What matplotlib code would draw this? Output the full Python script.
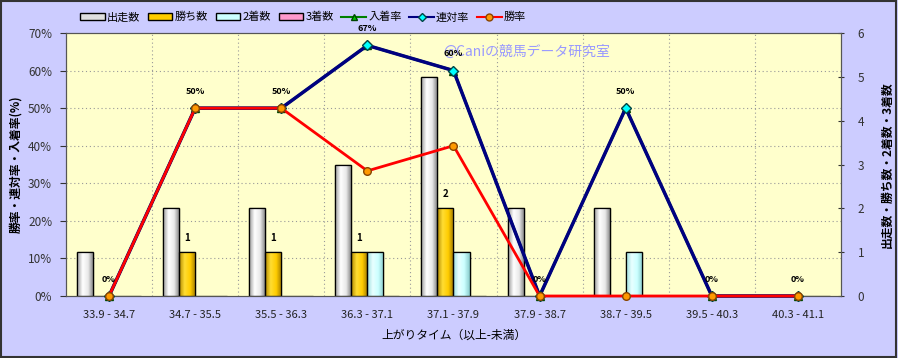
import numpy as np
import matplotlib
matplotlib.use("Agg")
import matplotlib.pyplot as plt
from matplotlib.patches import Rectangle, Patch
from matplotlib.lines import Line2D
from matplotlib.transforms import blended_transform_factory
from matplotlib.colors import LinearSegmentedColormap

plt.rcParams['font.family'] = ['Noto Sans CJK JP', 'DejaVu Sans']

categories = ["33.9 - 34.7", "34.7 - 35.5", "35.5 - 36.3", "36.3 - 37.1", "37.1 - 37.9",
              "37.9 - 38.7", "38.7 - 39.5", "39.5 - 40.3", "40.3 - 41.1"]
starts = [1, 2, 2, 3, 5, 2, 2, 0, 0]       # 出走数
wins = [0, 1, 1, 1, 2, 0, 0, 0, 0]         # 勝ち数
seconds = [0, 0, 0, 1, 1, 0, 1, 0, 0]      # 2着数
thirds = [0, 0, 0, 0, 0, 0, 0, 0, 0]       # 3着数
place_rate = [0, 50, 50, 66.7, 60, 0, 50, 0, 0]   # 入着率
quinella_rate = [0, 50, 50, 66.7, 60, 0, 50, 0, 0]  # 連対率
win_rate = [0, 50, 50, 33.3, 40, 0, 0, 0, 0]      # 勝率

W, H = 898, 358
fig = plt.figure(figsize=(W / 100, H / 100), dpi=100)
fig.patch.set_facecolor('#ccccff')
fig.add_artist(Rectangle((0.001, 0.002), 0.997, 0.995, transform=fig.transFigure,
                         fill=False, edgecolor='#333333', linewidth=1.5))

L, R, T, B = 66, 841, 33, 296
axb = fig.add_axes([L / W, 1 - B / H, (R - L) / W, (B - T) / H])
axb.set_facecolor('#ffffcc')
axp = axb.twinx()

x = np.arange(len(categories))
bw = 0.186
series = [(starts, ['#9a9a9a', '#ffffff', '#e8e8e8', '#7a7a7a'], '出走数', '#e0e0e0'),
          (wins, ['#b08800', '#ffdd33', '#ffcc00', '#a07800'], '勝ち数', '#ffcc00'),
          (seconds, ['#99dddd', '#e8ffff', '#ccffff', '#88cccc'], '2着数', '#ccffff'),
          (thirds, ['#cc6699', '#ffccee', '#ff99cc', '#bb5588'], '3着数', '#ff99cc')]
offsets = [-1.5, -0.5, 0.5, 1.5]
for (vals, cols, name, base), off in zip(series, offsets):
    cmap = LinearSegmentedColormap.from_list(name, cols)
    bars = axb.bar(x + off * bw, vals, width=bw, color=base, edgecolor='black',
                   linewidth=0.9, zorder=2)
    for b, v in zip(bars, vals):
        if v <= 0:
            continue
        grad = np.linspace(0, 1, 64).reshape(1, -1)
        im = axb.imshow(grad, cmap=cmap, aspect='auto', zorder=2.1,
                        extent=[b.get_x(), b.get_x() + b.get_width(), 0, v])
        im.set_clip_path(b)
        edge = Rectangle((b.get_x(), 0), b.get_width(), v, fill=False,
                         edgecolor='black', linewidth=0.9, zorder=2.2)
        axb.add_patch(edge)

for i, v in enumerate(wins):
    if v > 0:
        axb.annotate(str(v), (x[i] - 0.5 * bw, v), xytext=(0, 10), textcoords='offset points',
                     ha='center', va='center', fontsize=7, fontweight='bold', zorder=5)

axb.set_xlim(-0.5, len(categories) - 0.5)
axb.set_ylim(0, 6)
axb.set_yticks(range(0, 7))
axb.yaxis.tick_right()
axb.yaxis.set_label_position('right')
axb.set_ylabel('出走数・勝ち数・2着数・3着数', fontsize=8.5, fontweight='bold', rotation=90, labelpad=12)
axb.set_xticks(x)
axb.set_xticklabels(categories, fontsize=8, color='#222222')
axb.set_xticks(np.arange(0.5, len(categories) - 0.5), minor=True)
axb.tick_params(axis='x', which='major', length=0, pad=10)
axb.tick_params(axis='x', which='minor', length=0)
axb.grid(which='minor', axis='x', color='#999999', linestyle=(0, (1, 2.5)), linewidth=0.8, zorder=0.5)
axb.tick_params(axis='y', labelsize=8.5, colors='#333333', length=4, direction='inout', pad=10)
axb.set_xlabel('上がりタイム（以上-未満）', fontsize=8.5, labelpad=6)
axb.set_axisbelow(True)

# horizontal grid at percent ticks, drawn under bars
pct_ticks = list(range(0, 71, 10))
tr = blended_transform_factory(axb.transAxes, axp.transData)
for p in pct_ticks[1:-1]:
    axb.plot([0, 1], [p, p], transform=tr, color='#999999', linestyle=(0, (1, 2.5)), linewidth=0.8, zorder=0.5)

axp.plot(x, place_rate, color='#008000', linewidth=2, marker='^', markersize=6,
         markerfacecolor='#00cc00', markeredgecolor='#004400', zorder=3, clip_on=False)
axp.plot(x, quinella_rate, color='#000080', linewidth=2.5, marker='D', markersize=5,
         markerfacecolor='#00ffff', markeredgecolor='#004444', zorder=4, clip_on=False)
axp.plot(x, win_rate, color='#ff0000', linewidth=2, marker='o', markersize=5.5,
         markerfacecolor='#ff9900', markeredgecolor='#884400', zorder=5, clip_on=False)
for i, v in enumerate(place_rate):
    axp.annotate(f'{round(v)}%', (x[i], v), xytext=(0, 12), textcoords='offset points',
                 ha='center', va='center', fontsize=6.5, fontweight='bold', zorder=6)

axp.set_ylim(0, 70)
axp.set_yticks(pct_ticks)
axp.set_yticklabels([f'{p}%' for p in pct_ticks])
axp.yaxis.tick_left()
axp.yaxis.set_label_position('left')
axp.tick_params(axis='y', labelsize=8.5, colors='#333333', length=4, direction='out', pad=6)
axp.set_ylabel('勝率・連対率・入着率(%)', fontsize=8.5, fontweight='bold', labelpad=4)

for ax in (axb, axp):
    for s in ax.spines.values():
        s.set_color('#555555')
        s.set_linewidth(0.8)

axp.text(0.487, 0.93, '@Caniの競馬データ研究室', transform=axp.transAxes, fontsize=10,
         color='#9999ff', ha='left', va='center', zorder=1)

handles = [Patch(facecolor='#e0e0e0', edgecolor='black'),
           Patch(facecolor='#ffcc00', edgecolor='black'),
           Patch(facecolor='#ccffff', edgecolor='black'),
           Patch(facecolor='#ff99cc', edgecolor='black'),
           Line2D([], [], color='#008000', marker='^', markerfacecolor='#00cc00', markeredgecolor='#004400', markersize=5, linewidth=1.5),
           Line2D([], [], color='#000080', marker='D', markerfacecolor='#00ffff', markeredgecolor='#004444', markersize=4, linewidth=1.5),
           Line2D([], [], color='#ff0000', marker='o', markerfacecolor='#ff9900', markeredgecolor='#884400', markersize=5, linewidth=1.5)]
labels = ['出走数', '勝ち数', '2着数', '3着数', '入着率', '連対率', '勝率']
fig.legend(handles, labels, loc='center left', bbox_to_anchor=(0.083, 0.952), ncol=7,
           frameon=False, fontsize=8, handlelength=2.2, handleheight=0.5, handletextpad=0.2,
           columnspacing=0.7, borderpad=0)

fig.savefig('out.png', dpi=100, facecolor=fig.get_facecolor())
